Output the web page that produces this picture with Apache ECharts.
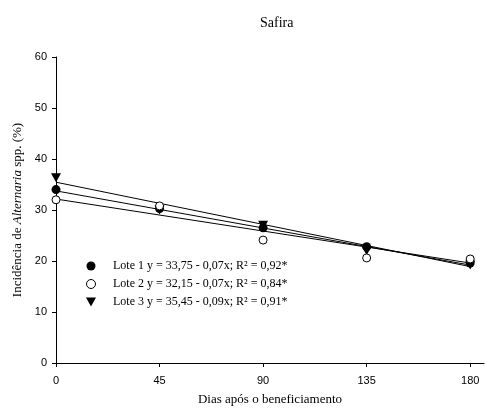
<!DOCTYPE html>
<html>
<head>
<meta charset="utf-8">
<script src="https://cdn.jsdelivr.net/npm/echarts@6/dist/echarts.min.js"></script>
<style>
  html, body { margin: 0; padding: 0; background: #fff; }
  #chart { width: 485px; height: 412px; }
</style>
</head>
<body>
<div id="chart"></div>
<script>
// dias após o beneficiamento
const days = [0, 45, 90, 135, 180];
const xTicks = [0, 45, 90, 135, 180];

// incidência observada (%)
const lote1 = [34.0, 30.3, 26.5, 22.8, 19.6];
const lote2 = [32.0, 30.8, 24.1, 20.6, 20.4];
const lote3 = [36.3, 30.0, 27.0, 22.0, 19.2];

// retas ajustadas: valor em x = 0 e x = 180
const fitX = [0, 180];
const fit1 = [33.75, 19.2];
const fit2 = [32.15, 19.6];
const fit3 = [35.45, 18.9];

const names = [
  "Lote 1 y = 33,75 - 0,07x; R² = 0,92*",
  "Lote 2 y = 32,15 - 0,07x; R² = 0,84*",
  "Lote 3 y = 35,45 - 0,09x; R² = 0,91*",
];

const serif = "'Liberation Serif', 'Times New Roman', serif";
const sans = "'Liberation Sans', Arial, sans-serif";
const triDown = "path://M0,0L10,0L5,9Z";

const pairs = (xs, ys) => xs.map((x, i) => [x, ys[i]]);

const fitLine = (ys) => ({
  type: "line",
  data: pairs(fitX, ys),
  symbol: "none",
  silent: true,
  lineStyle: { color: "#000", width: 1 },
  z: 2,
});

const chart = echarts.init(document.getElementById("chart"), null, { renderer: "canvas" });

chart.setOption({
  backgroundColor: "#fff",
  animation: false,
  title: {
    text: "Safira",
    left: 255,
    top: 11,
    textStyle: { fontFamily: serif, fontSize: 14, fontWeight: "normal", color: "#000" },
  },
  grid: { left: 56, right: 1, top: 57, bottom: 49 },
  legend: {
    data: [
      { name: names[0], icon: "circle" },
      { name: names[1], icon: "circle", itemStyle: { borderWidth: 1 } },
      { name: names[2], icon: triDown },
    ],
    orient: "vertical",
    left: 81,
    top: 255,
    itemWidth: 10,
    itemHeight: 9,
    itemGap: 6,
    selectedMode: false,
    textStyle: { fontFamily: serif, fontSize: 12, color: "#000", padding: [0, 0, 0, 12] },
  },
  xAxis: {
    type: "value",
    min: 0,
    max: 186,
    name: "Dias após o beneficiamento",
    nameLocation: "middle",
    nameGap: 30,
    nameTextStyle: { fontFamily: serif, fontSize: 13, color: "#000" },
    axisLine: { lineStyle: { color: "#000", width: 1 } },
    axisTick: { show: true, length: 4, customValues: xTicks, lineStyle: { color: "#000" } },
    axisLabel: { customValues: xTicks, margin: 12, fontFamily: sans, fontSize: 11, color: "#000" },
    splitLine: { show: false },
  },
  yAxis: {
    type: "value",
    min: 0,
    max: 60,
    interval: 10,
    name: "Incidência de {i|Alternaria} spp. (%)",
    nameLocation: "middle",
    nameGap: 31,
    nameTextStyle: {
      fontFamily: serif,
      fontSize: 13,
      color: "#000",
      rich: { i: { fontFamily: serif, fontSize: 13, fontStyle: "italic", color: "#000" } },
    },
    axisLine: { show: true, lineStyle: { color: "#000", width: 1 } },
    axisTick: { show: true, length: 4, lineStyle: { color: "#000" } },
    axisLabel: { margin: 9, fontFamily: sans, fontSize: 11, color: "#000" },
    splitLine: { show: false },
  },
  series: [
    fitLine(fit1),
    fitLine(fit2),
    fitLine(fit3),
    {
      name: names[0],
      type: "scatter",
      data: pairs(days, lote1),
      symbol: "circle",
      symbolSize: 9,
      itemStyle: { color: "#000", opacity: 1 },
      z: 3,
    },
    {
      name: names[1],
      type: "scatter",
      data: pairs(days, lote2),
      symbol: "circle",
      symbolSize: 8,
      itemStyle: { color: "#fff", borderColor: "#000", borderWidth: 1, opacity: 1 },
      z: 4,
    },
    {
      name: names[2],
      type: "scatter",
      data: pairs(days, lote3),
      symbol: triDown,
      symbolSize: [10, 9],
      itemStyle: { color: "#000", opacity: 1 },
      z: 3,
    },
  ],
});
</script>
</body>
</html>
